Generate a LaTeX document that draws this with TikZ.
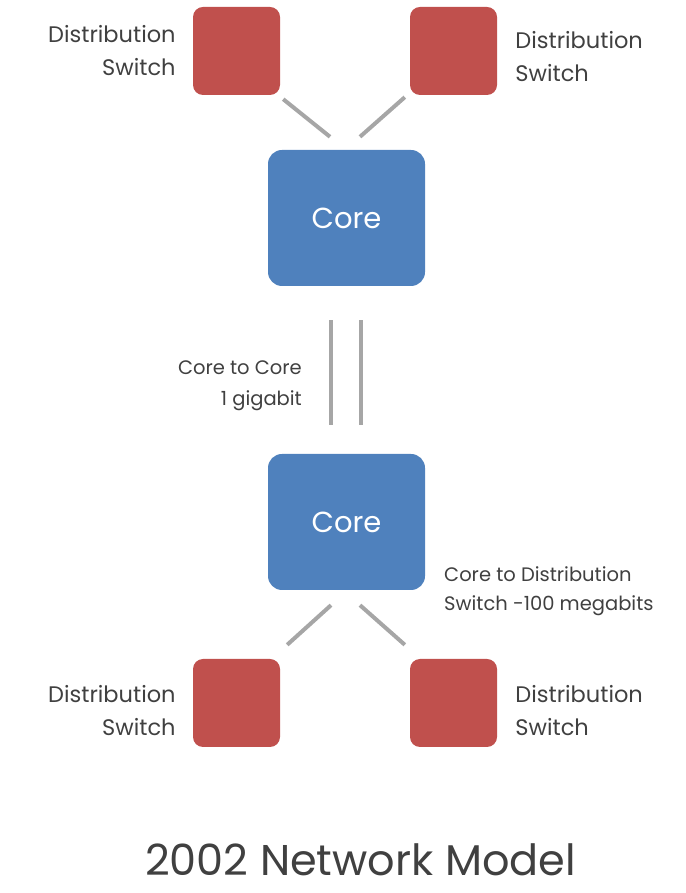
\documentclass[tikz,border=0pt]{standalone}
\usepackage{fontspec}
\setmainfont{Poppins}
\usetikzlibrary{positioning}
\definecolor{switchred}{HTML}{C0504D}
\definecolor{coreblue}{HTML}{4F81BD}
\definecolor{linkgray}{HTML}{A6A6A6}
\definecolor{labelgray}{HTML}{404040}
\begin{document}
\begin{tikzpicture}[x=1pt, y=1pt,
  core/.style = {shape=rectangle, rounded corners=14pt, fill=coreblue,
    minimum width=157pt, minimum height=136pt, text=white,
    font=\fontsize{29}{29}\selectfont},
  switch/.style = {shape=rectangle, rounded corners=10pt, fill=switchred,
    minimum width=87pt, minimum height=88pt},
  link/.style = {draw=linkgray, line width=4pt},
  lbl/.style = {text=labelgray, inner sep=0pt,
    font=\fontsize{22.5}{33}\selectfont}]
  \useasboundingbox (0,0) rectangle (685,893);
  % the two cores
  \node[core] (core1) at (346.5,675) {Core};
  \node[core] (core2) at (346.5,371) {Core};
  % distribution switches
  \node[switch] (tl) at (236.5,842) {};
  \node[switch] (tr) at (453.5,842) {};
  \node[switch] (bl) at (236.5,190) {};
  \node[switch] (br) at (453.5,190) {};
  % links
  \draw[link] ([shift={(3,-4)}]tl.south east) -- ([shift={(-16.5,13)}]core1.north);
  \draw[link] ([shift={(-5,-2)}]tr.south west) -- ([shift={(13.5,13)}]core1.north);
  \draw[link] ([shift={(-15.5,-34)}]core1.south) -- ([shift={(-15.5,29)}]core2.north);
  \draw[link] ([shift={(14.5,-34)}]core1.south) -- ([shift={(14.5,29)}]core2.north);
  \draw[link] ([shift={(-15.5,-15)}]core2.south) -- ([shift={(7,14)}]bl.north east);
  \draw[link] ([shift={(13.5,-15)}]core2.south) -- ([shift={(-5,14)}]br.north west);
  % labels
  \node[lbl, align=right, left=17pt of tl] (tllbl) {Distribution\\Switch};
  \node[lbl, align=left, right=18pt of tr, yshift=-5.5pt] (trlbl) {Distribution\\Switch};
  \node[lbl, align=right, left=17pt of bl, yshift=-7.5pt] (bllbl) {Distribution\\Switch};
  \node[lbl, align=left, right=18pt of br, yshift=-7.5pt] (brlbl) {Distribution\\Switch};
  \node[lbl, align=right, anchor=east, font=\fontsize{19.5}{31}\selectfont]
    (cclbl) at (302,507.5) {Core to Core\\1 gigabit};
  \node[lbl, align=left, anchor=west, font=\fontsize{19.5}{29}\selectfont]
    (cdlbl) at (444,301.5) {Core to Distribution\\Switch -100 megabits};
  \node[lbl, font=\fontsize{43}{43}\selectfont] (title) at (360.5,33) {2002 Network Model};
\end{tikzpicture}
\end{document}
